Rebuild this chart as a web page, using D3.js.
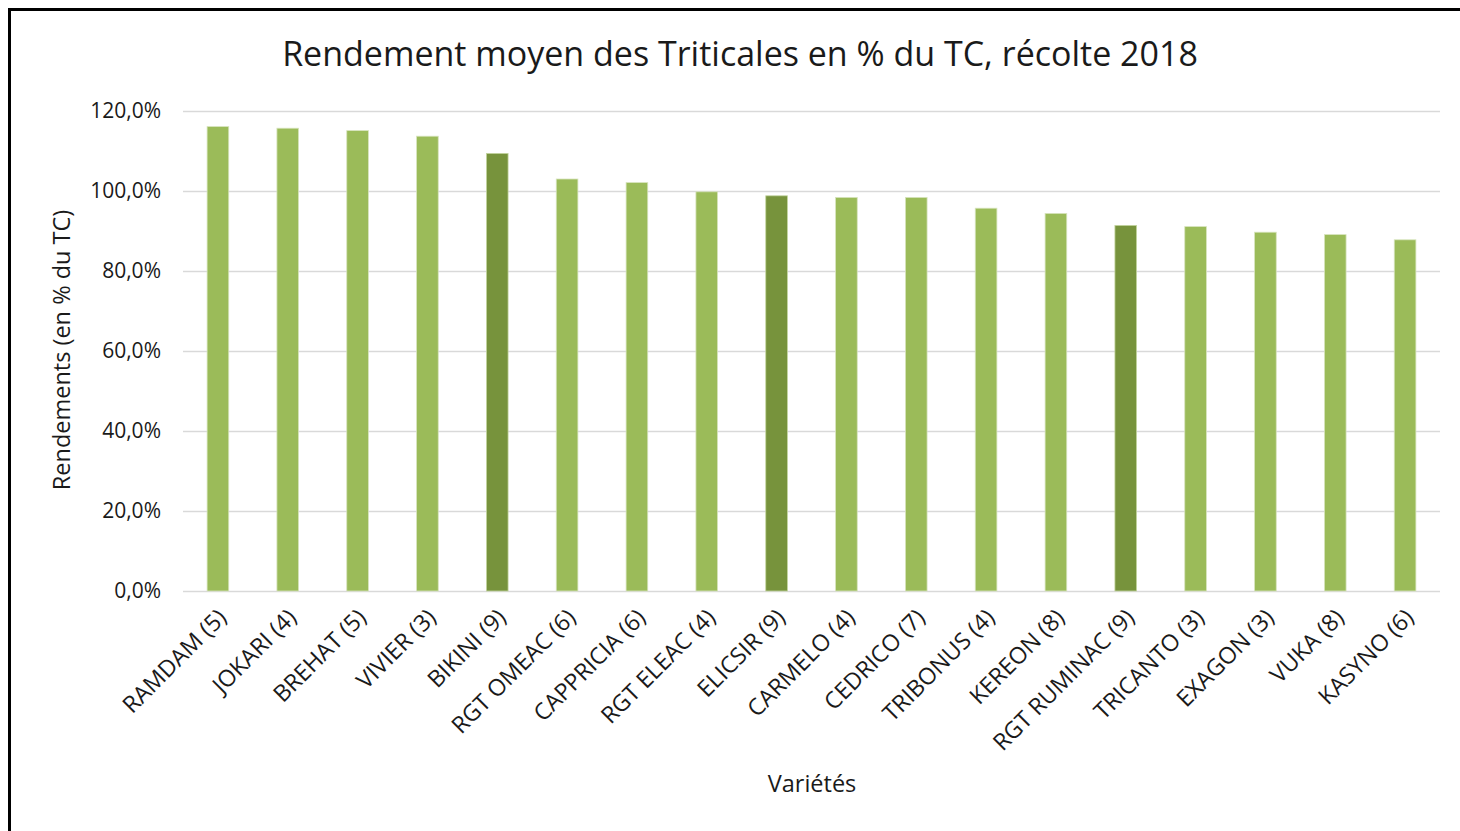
<!DOCTYPE html>
<html><head><meta charset="utf-8">
<script src="https://cdn.jsdelivr.net/npm/d3@7"></script>
<style>
html,body{margin:0;padding:0;background:#fff;}
svg{display:block;}
text{font-family:"Open Sans","Noto Sans",sans-serif;fill:#1a1a1a;}
</style></head>
<body>
<svg id="chart" width="1460" height="831"></svg>
<script>
const categories = ["RAMDAM (5)","JOKARI (4)","BREHAT (5)","VIVIER (3)","BIKINI (9)","RGT OMEAC (6)","CAPPRICIA (6)","RGT ELEAC (4)","ELICSIR (9)","CARMELO (4)","CEDRICO (7)","TRIBONUS (4)","KEREON (8)","RGT RUMINAC (9)","TRICANTO (3)","EXAGON (3)","VUKA (8)","KASYNO (6)"];
const values = [116.1,115.7,115.1,113.7,109.4,103.0,102.1,99.8,98.8,98.4,98.4,95.7,94.4,91.4,91.1,89.7,89.1,87.8];
const highlighted = ["BIKINI (9)","ELICSIR (9)","RGT RUMINAC (9)"];
const yTicks = [0,20,40,60,80,100,120];
const title = "Rendement moyen des Triticales en % du TC, récolte 2018";
const yTitle = "Rendements (en % du TC)";
const xTitle = "Variétés";

const svg = d3.select("#chart");
const W = 1460, H = 831;

// outer frame
svg.append("rect").attr("x",9.5).attr("y",9.5).attr("width",W+20).attr("height",H+20)
  .attr("fill","#fff").attr("stroke","#000").attr("stroke-width",3);

const x = d3.scaleBand().domain(categories).range([183,1440]).paddingInner(0.69).paddingOuter(0.345);
const y = d3.scaleLinear().domain([0,120]).range([591,111]);

// gridlines
svg.append("g").selectAll("line").data(yTicks).join("line")
  .attr("x1",183).attr("x2",1440).attr("y1",d=>y(d)+0.5).attr("y2",d=>y(d)+0.5)
  .attr("stroke","#d9d9d9").attr("stroke-width",1.3);

// y axis labels
const yAxis = d3.axisLeft(y).tickValues(yTicks).tickSize(0).tickPadding(0)
  .tickFormat(d=>d3.format(".1f")(d).replace(".",",")+"%");
const ya = svg.append("g").attr("transform","translate(161,0)").call(yAxis);
ya.select(".domain").remove();
ya.selectAll("text").style("font-size","21px").attr("fill","#1a1a1a").style("font-family","'Open Sans',sans-serif");

// bars
svg.append("g").selectAll("rect").data(categories).join("rect")
  .attr("x",d=>x(d)).attr("width",x.bandwidth())
  .attr("y",(d,i)=>y(values[i])).attr("height",(d,i)=>591-y(values[i]))
  .attr("fill",d=>highlighted.includes(d)?"#77933C":"#9BBB59")
  .attr("stroke",d=>highlighted.includes(d)?"#c4d5a0":"#d7e4bd").attr("stroke-width",0.8);

// x axis labels
const xAxis = d3.axisBottom(x).tickSize(0).tickPadding(0);
const xa = svg.append("g").attr("transform","translate(0,591)").call(xAxis);
xa.select(".domain").remove();
xa.selectAll("text")
  .style("font-size","23.2px").style("font-family","'Open Sans',sans-serif").attr("fill","#1a1a1a")
  .attr("text-anchor","end").attr("dy",null).attr("y",null)
  .attr("transform","translate(10,28) rotate(-45)");

// titles
svg.append("text").attr("x",740).attr("y",66).attr("text-anchor","middle")
  .style("font-size","34px").text(title);
svg.append("text").attr("transform","translate(70,350) rotate(-90)").attr("text-anchor","middle")
  .style("font-size","23.5px").text(yTitle);
svg.append("text").attr("x",812).attr("y",792).attr("text-anchor","middle")
  .style("font-size","23.5px").text(xTitle);
</script>
</body></html>
